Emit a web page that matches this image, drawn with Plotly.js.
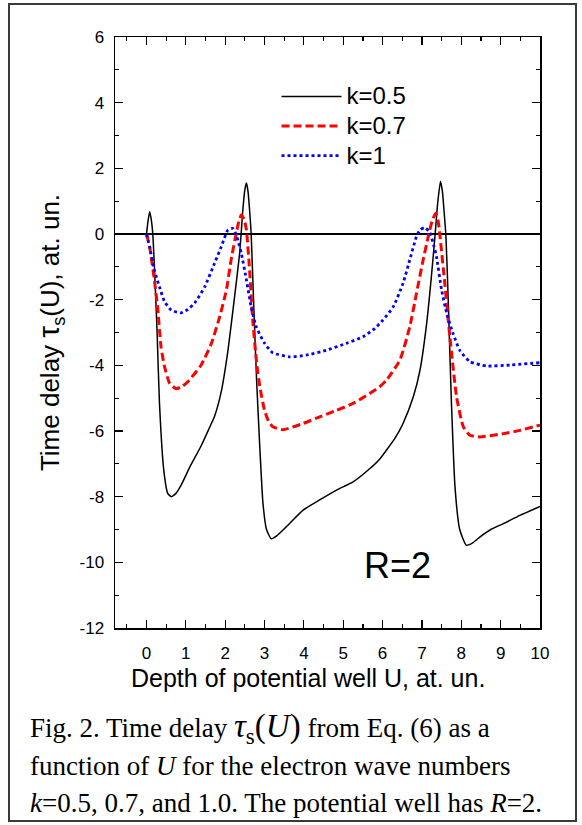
<!DOCTYPE html>
<html>
<head>
<meta charset="utf-8">
<script src="https://cdn.plot.ly/plotly-3.0.1.min.js"></script>
<style>
html,body{margin:0;padding:0;background:#fff;}
#wrap{position:relative;width:582px;height:825px;}
#chart{position:absolute;left:0;top:0;width:582px;height:825px;}
#frame{position:absolute;left:8px;top:3px;width:569px;height:819px;border:2px solid #3a3a3a;box-sizing:border-box;pointer-events:none;}
</style>
</head>
<body>
<div id="wrap"><div id="chart"></div><div id="frame"></div></div>
<script>
// k = 0.5 (black solid)
const u_k05 = [0,0.04,0.08,0.12,0.16,0.22,0.27,0.33,0.44,0.54,0.63,0.75,0.88,1.1,1.39,1.6,1.73,1.9,2.07,2.24,2.37,2.45,2.5,2.54,2.58,2.62,2.66,2.72,2.8,2.88,2.96,3.05,3.17,3.3,3.55,3.98,4.4,4.83,5.25,5.67,5.93,6.1,6.3,6.52,6.78,6.95,7.12,7.24,7.33,7.4,7.47,7.52,7.56,7.61,7.67,7.75,7.84,7.96,8.13,8.3,8.47,8.75,9.07,9.49,10];
const tau_k05 = [0,0.4,0.68,0.45,0,-1.5,-3.0,-5.15,-7.2,-7.9,-8.0,-7.9,-7.65,-7.1,-6.45,-5.9,-5.55,-4.8,-3.55,-1.9,-0.55,0.75,1.35,1.55,1.3,0.73,0,-2.0,-4.5,-6.5,-8.2,-9.0,-9.28,-9.2,-8.92,-8.41,-8.1,-7.8,-7.55,-7.15,-6.85,-6.58,-6.25,-5.77,-4.96,-4.15,-2.72,-1.3,-0.08,0.94,1.6,1.3,0.73,-0.08,-2.1,-5.16,-7.7,-9.0,-9.48,-9.4,-9.23,-9.0,-8.82,-8.57,-8.3];
// k = 0.7 (red dashed)
const u_k07 = [0,0.08,0.2,0.29,0.37,0.46,0.59,0.75,0.9,1.05,1.39,1.65,1.86,2.03,2.15,2.28,2.35,2.41,2.48,2.54,2.62,2.7,2.8,2.88,3.0,3.1,3.21,3.47,3.98,4.4,4.83,5.25,5.67,5.93,6.1,6.44,6.69,6.86,7.03,7.16,7.26,7.35,7.41,7.46,7.58,7.71,7.88,8.05,8.22,8.47,9.07,9.49,10];
const tau_k07 = [0,-0.39,-1.4,-2.32,-3.44,-4.05,-4.55,-4.71,-4.65,-4.5,-3.99,-3.33,-2.52,-1.71,-0.79,0.02,0.4,0.58,0.45,0.12,-1.1,-2.62,-3.94,-4.65,-5.37,-5.7,-5.87,-5.96,-5.77,-5.57,-5.37,-5.16,-4.86,-4.65,-4.45,-3.84,-2.83,-1.81,-0.79,-0.08,0.4,0.63,0.4,-0.08,-1.5,-3.13,-4.96,-5.87,-6.13,-6.18,-6.08,-5.98,-5.82];
// k = 1 (blue dotted)
const u_k1 = [0,0.08,0.2,0.33,0.46,0.63,0.88,1.05,1.22,1.48,1.73,1.9,2.07,2.2,2.3,2.41,2.54,2.66,2.79,3.0,3.21,3.64,4.06,4.57,5.08,5.5,5.8,6.01,6.27,6.52,6.69,6.86,6.95,7.07,7.2,7.3,7.37,7.5,7.63,7.79,7.96,8.22,8.64,9.24,10];
const tau_k1 = [0,-0.39,-1.1,-1.61,-2.06,-2.32,-2.4,-2.3,-2.11,-1.61,-0.89,-0.39,0.12,0.17,-0.1,-0.59,-1.4,-2.22,-2.83,-3.33,-3.62,-3.74,-3.69,-3.54,-3.33,-3.13,-2.88,-2.62,-2.22,-1.5,-0.79,-0.08,0.12,0.2,0.05,-0.35,-0.69,-1.71,-2.42,-3.03,-3.54,-3.89,-4.02,-3.99,-3.92];

const seriesNames = ['k=0.5','k=0.7','k=1'];
const xTickVals = [0,1,2,3,4,5,6,7,8,9,10];
const yTickVals = [-12,-10,-8,-6,-4,-2,0,2,4,6];

const big = s => '<span style="font-size:24px">' + s + '</span>';

const traces = [
  {x:u_k05, y:tau_k05, name:big(seriesNames[0]), mode:'lines', legendgroup:'a',
   line:{color:'#000000', width:1.5, shape:'spline', smoothing:0.5}},
  {x:u_k07, y:tau_k07, name:big(seriesNames[1]), mode:'lines', legendgroup:'b',
   line:{color:'#ff0000', width:3, dash:'8px,4px', shape:'spline', smoothing:0.5}},
  {x:u_k1, y:tau_k1, name:big(seriesNames[2]), mode:'lines', legendgroup:'c',
   line:{color:'#0000ff', width:2.8, dash:'3px,3px', shape:'spline', smoothing:0.5}}
];

const sans = 'Liberation Sans, Arial, sans-serif';
const axisFont = {family:sans, size:17, color:'#000'};
const capFont = {family:'Liberation Serif, Times New Roman, serif', size:27, color:'#000'};
const capX = -0.205;

const layout = {
  width:582, height:825,
  margin:{l:115, r:42, t:37, b:197},
  paper_bgcolor:'#fff', plot_bgcolor:'#fff',
  showlegend:true,
  legend:{x:0.38, y:0.933, xanchor:'left', yanchor:'top', bgcolor:'rgba(0,0,0,0)',
          font:{family:sans, size:20.5, color:'#000'}, itemwidth:60,
          traceorder:'grouped', tracegroupgap:0},
  xaxis:{range:[-0.8,10], tickvals:xTickVals, ticktext:xTickVals.map(String),
         ticks:'inside', ticklen:8, tickwidth:1.2, tickcolor:'#000',
         minor:{dtick:0.5, tick0:0, ticks:'inside', ticklen:4, tickwidth:1.2, tickcolor:'#000'},
         showline:true, linecolor:'#000', linewidth:1.5, mirror:'ticks',
         showgrid:false, zeroline:false, tickfont:axisFont, ticklabelstandoff:9,
         title:{text:''}},
  yaxis:{range:[-12,6], tickvals:yTickVals, ticktext:yTickVals.map(String),
         ticks:'inside', ticklen:8, tickwidth:1.2, tickcolor:'#000',
         minor:{dtick:1, tick0:0, ticks:'inside', ticklen:4, tickwidth:1.2, tickcolor:'#000'},
         showline:true, linecolor:'#000', linewidth:1.5, mirror:'ticks',
         showgrid:false, zeroline:true, zerolinecolor:'#000', zerolinewidth:1.5,
         tickfont:axisFont, ticklabelstandoff:6,
         title:{text:'Time delay <span style="font-size:30px">τ</span><sub>s</sub>(U), at. un.', font:{family:sans, size:26, color:'#000'}, standoff:12}},
  annotations:[
    {x:0.455, y:-0.085, xref:'paper', yref:'paper', xanchor:'center', yanchor:'middle', showarrow:false,
     text:'Depth of potential well U, at. un.', font:{family:sans, size:25, color:'#000'}},
    {x:6.39, y:-10.1, xref:'x', yref:'y', text:'R=2', showarrow:false,
     font:{family:sans, size:36, color:'#000'}},
    {x:capX, y:-0.17, xref:'paper', yref:'paper', xanchor:'left', yanchor:'middle', showarrow:false, align:'left',
     text:'Fig. 2. Time delay <span style="font-size:33px"><i>τ</i><sub>s</sub>(<i>U</i>)</span> from Eq. (6) as a', font:capFont},
    {x:capX, y:-0.234, xref:'paper', yref:'paper', xanchor:'left', yanchor:'middle', showarrow:false, align:'left',
     text:'function of <i>U</i> for the electron wave numbers', font:capFont},
    {x:capX, y:-0.296, xref:'paper', yref:'paper', xanchor:'left', yanchor:'middle', showarrow:false, align:'left',
     text:'<i>k</i>=0.5, 0.7, and 1.0. The potential well has <i>R</i>=2.', font:capFont}
  ]
};

Plotly.newPlot('chart', traces, layout, {displayModeBar:false, staticPlot:true});
</script>
</body>
</html>
